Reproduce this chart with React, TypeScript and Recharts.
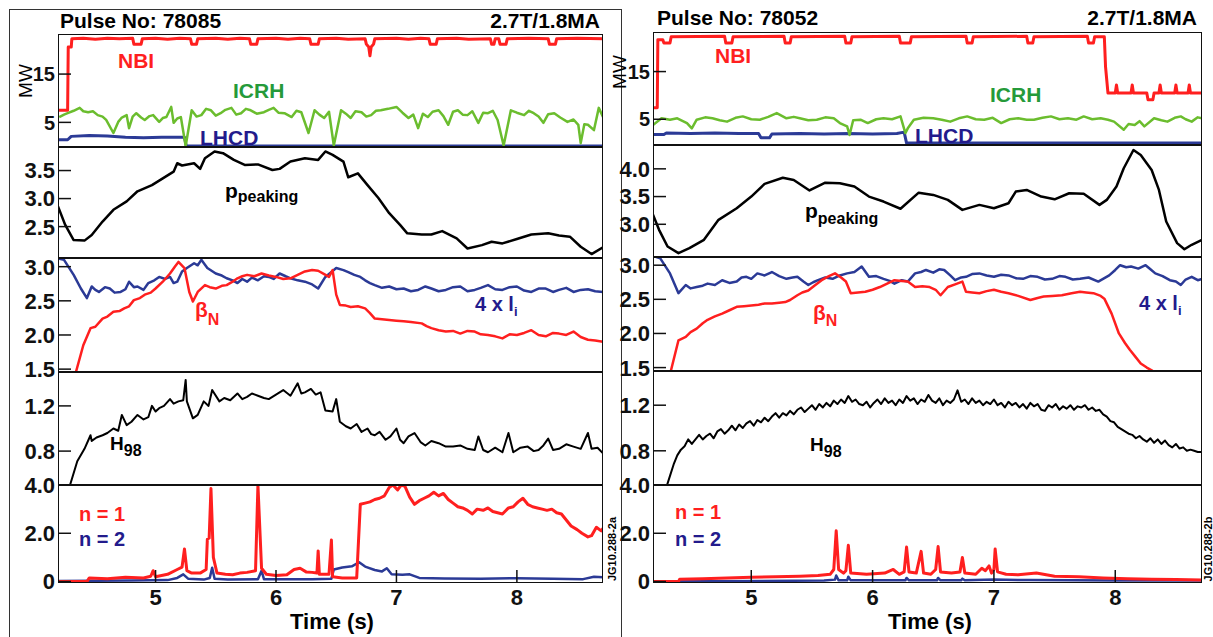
import React from "react";
import { LineChart, Line, XAxis, YAxis } from "recharts";

type Pt = [number, number];

// time axis shared by every panel (s)
const T_DOMAIN: [number, number] = [4.19, 8.715];
const X_TICKS = [5, 6, 7, 8];

// ---------- Pulse 78085 (left) ----------
const L_NBI: Pt[] = [
  [4.19, 7.5], [4.27, 7.5], [4.275, 20.6], [4.3, 20.6], [4.305, 22.3], [4.4, 22.4], [4.5, 22.2], [4.6, 22.4],
  [4.7, 22.3], [4.81, 22.4], [4.82, 21.2], [4.88, 21.2], [4.89, 22.3], [5.0, 22.4], [5.1, 22.2], [5.2, 22.4],
  [5.29, 22.3], [5.3, 21.2], [5.34, 21.2], [5.35, 22.3], [5.5, 22.4], [5.6, 22.2], [5.7, 22.4], [5.78, 22.3],
  [5.79, 21.2], [5.84, 21.2], [5.85, 22.3], [6.0, 22.4], [6.1, 22.2], [6.2, 22.4], [6.28, 22.3], [6.29, 21.2],
  [6.35, 21.2], [6.36, 22.3], [6.5, 22.4], [6.6, 22.2], [6.74, 22.3], [6.75, 21.2], [6.77, 20.6], [6.78, 18.8],
  [6.79, 20.6], [6.81, 21.2], [6.82, 22.3], [7.0, 22.4], [7.1, 22.2], [7.2, 22.4], [7.27, 22.3], [7.28, 21.2],
  [7.33, 21.2], [7.34, 22.3], [7.5, 22.4], [7.6, 22.2], [7.78, 22.3], [7.79, 21.2], [7.81, 21.2], [7.82, 22.3],
  [7.85, 22.3], [7.86, 21.2], [7.91, 21.2], [7.92, 22.3], [8.1, 22.4], [8.26, 22.3], [8.27, 21.2], [8.32, 21.2],
  [8.33, 22.3], [8.5, 22.4], [8.715, 22.3],
];
const L_ICRH: Pt[] = [
  [4.2, 6.1], [4.24, 6.6], [4.27, 6.9], [4.32, 7.4], [4.37, 8.0], [4.4, 7.3], [4.44, 7.1], [4.48, 7.3],
  [4.52, 6.5], [4.56, 6.2], [4.59, 5.5], [4.65, 2.8], [4.69, 5.1], [4.72, 6.0], [4.76, 6.5], [4.78, 3.8],
  [4.81, 6.2], [4.84, 6.9], [4.88, 6.0], [4.91, 5.5], [4.95, 6.3], [4.98, 6.5], [5.03, 5.1], [5.06, 5.9],
  [5.09, 6.1], [5.13, 8.2], [5.15, 4.9], [5.18, 5.8], [5.21, 6.1], [5.25, 0.1], [5.3, 7.5], [5.34, 6.2],
  [5.38, 6.5], [5.42, 7.8], [5.46, 7.5], [5.5, 6.4], [5.54, 6.9], [5.58, 7.6], [5.63, 8.0], [5.67, 6.6],
  [5.71, 6.9], [5.75, 7.8], [5.79, 7.5], [5.84, 6.8], [5.9, 7.1], [5.94, 7.6], [5.98, 8.0], [6.02, 7.0],
  [6.07, 6.9], [6.13, 6.1], [6.17, 7.4], [6.21, 7.1], [6.27, 2.8], [6.32, 7.5], [6.36, 6.6], [6.4, 5.9],
  [6.44, 7.2], [6.48, 0.2], [6.54, 7.5], [6.58, 6.8], [6.62, 5.9], [6.66, 7.3], [6.71, 7.1], [6.75, 6.2],
  [6.79, 6.5], [6.83, 7.4], [6.87, 7.5], [6.93, 7.8], [7.0, 8.2], [7.05, 7.0], [7.1, 5.9], [7.14, 6.6],
  [7.18, 3.8], [7.22, 6.8], [7.26, 6.1], [7.3, 7.2], [7.35, 7.5], [7.39, 6.3], [7.43, 4.5], [7.47, 7.2],
  [7.51, 7.5], [7.55, 6.6], [7.59, 6.5], [7.63, 7.3], [7.68, 4.9], [7.72, 7.0], [7.76, 6.9], [7.8, 7.4],
  [7.84, 5.5], [7.89, 0.2], [7.95, 7.5], [8.0, 7.0], [8.06, 6.5], [8.1, 7.4], [8.14, 6.9], [8.18, 6.2],
  [8.22, 4.9], [8.26, 6.7], [8.31, 6.9], [8.36, 6.0], [8.42, 5.1], [8.47, 5.6], [8.51, 4.5], [8.53, 0.7],
  [8.56, 4.6], [8.59, 4.5], [8.64, 3.4], [8.68, 8.0], [8.715, 6.1],
];
const L_LHCD: Pt[] = [
  [4.19, 1.4], [4.27, 1.4], [4.3, 2.1], [4.45, 2.3], [4.6, 2.2], [4.75, 1.9], [4.9, 1.8], [5.05, 1.9],
  [5.24, 1.9], [5.255, 0.1], [8.715, 0.1],
];
const L_PPEAK: Pt[] = [
  [4.19, 2.86], [4.25, 2.53], [4.32, 2.26], [4.41, 2.25], [4.47, 2.35], [4.56, 2.59], [4.65, 2.8], [4.76, 2.95],
  [4.85, 3.13], [4.97, 3.24], [5.06, 3.36], [5.15, 3.48], [5.18, 3.63], [5.22, 3.59], [5.32, 3.63], [5.37, 3.53],
  [5.41, 3.72], [5.49, 3.84], [5.56, 3.81], [5.65, 3.69], [5.74, 3.6], [5.85, 3.61], [5.97, 3.51], [6.03, 3.53],
  [6.12, 3.66], [6.24, 3.72], [6.35, 3.69], [6.41, 3.84], [6.47, 3.78], [6.56, 3.66], [6.6, 3.38], [6.68, 3.45],
  [6.76, 3.24], [6.85, 3.01], [6.94, 2.74], [7.03, 2.53], [7.09, 2.38], [7.21, 2.36], [7.29, 2.36], [7.38, 2.42],
  [7.5, 2.29], [7.59, 2.11], [7.71, 2.17], [7.79, 2.23], [7.88, 2.2], [8.0, 2.28], [8.12, 2.36], [8.26, 2.38],
  [8.35, 2.34], [8.44, 2.32], [8.53, 2.14], [8.62, 2.01], [8.715, 2.13],
];
const L_LI4: Pt[] = [
  [4.19, 3.12], [4.24, 3.1], [4.32, 2.88], [4.38, 2.68], [4.43, 2.54], [4.47, 2.71], [4.5, 2.66], [4.53, 2.63],
  [4.58, 2.7], [4.62, 2.68], [4.66, 2.62], [4.71, 2.63], [4.75, 2.67], [4.78, 2.78], [4.82, 2.7], [4.85, 2.71],
  [4.9, 2.66], [4.94, 2.76], [4.99, 2.8], [5.03, 2.85], [5.08, 2.82], [5.12, 2.85], [5.15, 2.76], [5.18, 2.78],
  [5.22, 2.93], [5.26, 2.98], [5.32, 3.05], [5.35, 3.02], [5.38, 3.1], [5.43, 2.98], [5.5, 2.9], [5.55, 2.87],
  [5.59, 2.83], [5.64, 2.8], [5.68, 2.76], [5.72, 2.82], [5.76, 2.78], [5.8, 2.84], [5.85, 2.8], [5.9, 2.86],
  [5.94, 2.85], [5.98, 2.82], [6.03, 2.9], [6.08, 2.86], [6.12, 2.83], [6.18, 2.8], [6.24, 2.78], [6.3, 2.74],
  [6.35, 2.68], [6.41, 2.85], [6.5, 2.98], [6.56, 2.95], [6.6, 2.92], [6.65, 2.88], [6.7, 2.85], [6.74, 2.8],
  [6.78, 2.76], [6.82, 2.73], [6.88, 2.69], [6.94, 2.71], [7.0, 2.67], [7.06, 2.68], [7.12, 2.64], [7.18, 2.66],
  [7.24, 2.71], [7.29, 2.68], [7.35, 2.64], [7.41, 2.66], [7.47, 2.7], [7.53, 2.71], [7.59, 2.64], [7.65, 2.66],
  [7.7, 2.69], [7.76, 2.73], [7.82, 2.67], [7.88, 2.66], [7.94, 2.7], [8.0, 2.71], [8.06, 2.65], [8.12, 2.63],
  [8.18, 2.68], [8.24, 2.68], [8.3, 2.63], [8.35, 2.66], [8.41, 2.69], [8.47, 2.63], [8.53, 2.66], [8.59, 2.67],
  [8.65, 2.64], [8.715, 2.63],
];
const L_BETAN: Pt[] = [
  [4.33, 1.4], [4.4, 1.85], [4.46, 2.1], [4.5, 2.12], [4.56, 2.24], [4.6, 2.27], [4.65, 2.34], [4.7, 2.35],
  [4.74, 2.39], [4.78, 2.42], [4.82, 2.51], [4.87, 2.54], [4.91, 2.59], [4.96, 2.62], [5.0, 2.68], [5.06, 2.78],
  [5.12, 2.9], [5.16, 3.0], [5.19, 3.07], [5.24, 2.98], [5.28, 2.63], [5.31, 2.49], [5.35, 2.63], [5.41, 2.73],
  [5.45, 2.7], [5.5, 2.68], [5.55, 2.72], [5.59, 2.73], [5.64, 2.78], [5.68, 2.83], [5.72, 2.86], [5.76, 2.88],
  [5.82, 2.86], [5.88, 2.9], [5.94, 2.87], [6.0, 2.85], [6.06, 2.82], [6.12, 2.83], [6.18, 2.88], [6.24, 2.93],
  [6.3, 2.95], [6.35, 2.94], [6.4, 2.89], [6.44, 2.85], [6.47, 2.95], [6.5, 2.59], [6.53, 2.44], [6.58, 2.43],
  [6.62, 2.41], [6.68, 2.42], [6.74, 2.39], [6.78, 2.32], [6.82, 2.24], [6.88, 2.23], [6.94, 2.22], [7.0, 2.21],
  [7.06, 2.2], [7.12, 2.19], [7.21, 2.17], [7.25, 2.13], [7.29, 2.1], [7.35, 2.07], [7.41, 2.05], [7.47, 2.06],
  [7.53, 2.02], [7.59, 2.06], [7.65, 2.05], [7.7, 2.01], [7.76, 2.0], [7.82, 1.98], [7.88, 1.95], [7.94, 2.01],
  [8.0, 2.0], [8.06, 2.03], [8.12, 2.07], [8.18, 2.0], [8.24, 1.98], [8.3, 2.03], [8.35, 2.02], [8.41, 2.0],
  [8.47, 2.05], [8.53, 1.97], [8.59, 1.93], [8.65, 1.92], [8.715, 1.9],
];
const L_H98: Pt[] = [
  [4.29, 0.5], [4.35, 0.71], [4.41, 0.82], [4.46, 0.94], [4.47, 0.89], [4.51, 0.92], [4.56, 0.94], [4.6, 0.96],
  [4.65, 1.0], [4.69, 0.98], [4.72, 1.12], [4.76, 1.03], [4.8, 1.06], [4.85, 1.12], [4.9, 1.08], [4.94, 1.1],
  [4.97, 1.2], [5.0, 1.15], [5.03, 1.18], [5.07, 1.2], [5.12, 1.26], [5.15, 1.22], [5.19, 1.24], [5.23, 1.25],
  [5.25, 1.43], [5.26, 1.24], [5.31, 1.09], [5.35, 1.12], [5.4, 1.24], [5.44, 1.2], [5.47, 1.34], [5.53, 1.24],
  [5.57, 1.27], [5.62, 1.25], [5.68, 1.31], [5.72, 1.26], [5.76, 1.28], [5.8, 1.31], [5.85, 1.29], [5.9, 1.27],
  [5.94, 1.26], [6.0, 1.3], [6.06, 1.34], [6.12, 1.29], [6.18, 1.4], [6.21, 1.31], [6.24, 1.32], [6.29, 1.35],
  [6.33, 1.3], [6.37, 1.32], [6.41, 1.16], [6.47, 1.15], [6.5, 1.26], [6.53, 1.06], [6.58, 1.02], [6.62, 1.0],
  [6.67, 1.04], [6.71, 0.97], [6.76, 1.0], [6.79, 0.95], [6.82, 0.94], [6.86, 0.97], [6.91, 0.9], [6.95, 0.93],
  [7.0, 1.0], [7.03, 0.9], [7.06, 0.87], [7.1, 0.93], [7.15, 0.96], [7.2, 0.88], [7.24, 0.85], [7.29, 0.89],
  [7.35, 0.87], [7.41, 0.84], [7.47, 0.84], [7.53, 0.85], [7.59, 0.82], [7.65, 0.81], [7.68, 0.93], [7.72, 0.81],
  [7.76, 0.79], [7.82, 0.83], [7.88, 0.79], [7.93, 0.96], [7.97, 0.79], [8.03, 0.83], [8.09, 0.84], [8.14, 0.8],
  [8.18, 0.81], [8.22, 0.85], [8.26, 0.91], [8.3, 0.81], [8.35, 0.82], [8.41, 0.86], [8.47, 0.84], [8.53, 0.82],
  [8.59, 0.96], [8.62, 0.82], [8.67, 0.83], [8.715, 0.78],
];
const L_N1: Pt[] = [
  [4.19, 0], [4.43, 0], [4.45, 0.15], [4.6, 0.12], [4.75, 0.18], [4.9, 0.15], [4.96, 0.22], [4.98, 0.45],
  [5.0, 0.2], [5.1, 0.3], [5.18, 0.5], [5.22, 0.6], [5.24, 1.35], [5.26, 0.45], [5.3, 0.35], [5.37, 0.35],
  [5.42, 0.5], [5.43, 1.75], [5.445, 1.8], [5.46, 3.85], [5.48, 1.0], [5.51, 0.35], [5.58, 0.3], [5.64, 0.28],
  [5.7, 0.35], [5.76, 0.38], [5.83, 0.45], [5.85, 4.0], [5.88, 0.55], [5.92, 0.3], [6.0, 0.25], [6.09, 0.28],
  [6.15, 0.5], [6.2, 0.55], [6.25, 0.4], [6.3, 0.38], [6.34, 0.35], [6.35, 1.27], [6.36, 0.3], [6.44, 0.3],
  [6.46, 1.72], [6.47, 0.2], [6.55, 0.15], [6.67, 0.15], [6.7, 3.2], [6.74, 3.25], [6.78, 3.3], [6.82, 3.4],
  [6.86, 3.45], [6.9, 3.55], [6.94, 3.9], [6.97, 4.0], [7.01, 3.8], [7.04, 4.0], [7.07, 3.95], [7.11, 3.5],
  [7.15, 3.2], [7.19, 3.35], [7.23, 3.45], [7.27, 3.55], [7.31, 3.7], [7.35, 3.55], [7.39, 3.65], [7.43, 3.4],
  [7.47, 3.25], [7.51, 3.1], [7.55, 3.05], [7.59, 2.95], [7.63, 2.8], [7.67, 3.0], [7.72, 2.95], [7.76, 3.05],
  [7.8, 2.9], [7.84, 2.85], [7.88, 2.8], [7.93, 3.05], [7.97, 3.1], [8.01, 3.3], [8.05, 3.45], [8.09, 3.2],
  [8.13, 3.1], [8.17, 3.05], [8.21, 3.0], [8.25, 2.95], [8.29, 3.0], [8.33, 2.85], [8.37, 2.8], [8.41, 2.55],
  [8.45, 2.3], [8.5, 2.15], [8.54, 2.0], [8.59, 1.85], [8.62, 1.9], [8.66, 2.25], [8.7, 2.1], [8.715, 2.2],
];
const L_N2: Pt[] = [
  [4.19, 0.02], [4.8, 0.04], [5.1, 0.06], [5.18, 0.15], [5.23, 0.3], [5.27, 0.12], [5.4, 0.08], [5.45, 0.15],
  [5.47, 0.57], [5.49, 0.12], [5.6, 0.08], [5.85, 0.1], [5.88, 0.45], [5.9, 0.1], [6.1, 0.1], [6.3, 0.1],
  [6.46, 0.12], [6.48, 0.5], [6.55, 0.58], [6.63, 0.63], [6.69, 0.8], [6.74, 0.62], [6.82, 0.48], [6.88, 0.42],
  [6.92, 0.55], [6.96, 0.3], [7.05, 0.28], [7.11, 0.3], [7.19, 0.15], [7.4, 0.13], [7.7, 0.12], [8.0, 0.14],
  [8.3, 0.12], [8.55, 0.1], [8.64, 0.2], [8.715, 0.18],
];

// ---------- Pulse 78052 (right) ----------
const R_NBI: Pt[] = [
  [4.185, 7.4], [4.225, 7.4], [4.23, 21.7], [4.27, 21.7], [4.28, 21.0], [4.33, 21.0], [4.34, 22.3], [4.78, 22.4],
  [4.79, 21.0], [4.84, 21.0], [4.85, 22.3], [5.27, 22.4], [5.28, 21.0], [5.32, 21.0], [5.33, 22.3], [5.77, 22.4],
  [5.78, 21.0], [5.82, 21.0], [5.83, 22.3], [6.22, 22.4], [6.23, 21.0], [6.31, 21.0], [6.32, 22.3], [6.77, 22.4],
  [6.78, 21.0], [6.82, 21.0], [6.83, 22.3], [7.27, 22.4], [7.28, 21.0], [7.32, 21.0], [7.33, 22.3], [7.77, 22.4],
  [7.78, 21.0], [7.82, 21.0], [7.83, 22.3], [7.91, 22.3], [7.92, 16.0], [7.94, 10.5], [8.0, 10.5], [8.01, 12.2],
  [8.02, 10.5], [8.13, 10.5], [8.14, 12.2], [8.15, 10.5], [8.26, 10.5], [8.27, 9.1], [8.31, 9.1], [8.32, 10.5],
  [8.36, 10.5], [8.37, 12.2], [8.38, 10.5], [8.49, 10.5], [8.5, 12.2], [8.51, 10.5], [8.6, 10.5], [8.61, 12.2],
  [8.62, 10.5], [8.715, 10.5],
];
const R_ICRH: Pt[] = [
  [4.19, 3.8], [4.26, 5.2], [4.33, 4.9], [4.39, 5.2], [4.47, 4.2], [4.51, 3.1], [4.55, 4.9], [4.62, 5.4],
  [4.68, 5.2], [4.74, 4.8], [4.8, 4.5], [4.87, 5.3], [4.93, 5.6], [5.0, 5.0], [5.07, 4.9], [5.14, 5.5],
  [5.21, 6.3], [5.29, 5.2], [5.35, 5.5], [5.4, 5.2], [5.47, 4.8], [5.54, 4.9], [5.61, 5.4], [5.68, 5.2],
  [5.73, 4.2], [5.79, 3.5], [5.81, 1.7], [5.84, 4.8], [5.9, 4.9], [5.96, 4.2], [6.03, 5.0], [6.09, 5.2],
  [6.16, 5.0], [6.23, 5.6], [6.27, 2.1], [6.29, 3.1], [6.34, 4.9], [6.42, 5.3], [6.5, 5.2], [6.57, 4.9],
  [6.64, 4.5], [6.71, 5.2], [6.78, 5.6], [6.85, 5.0], [6.92, 4.9], [6.99, 5.3], [7.06, 4.2], [7.13, 5.0],
  [7.2, 5.2], [7.27, 4.9], [7.33, 4.9], [7.4, 5.3], [7.47, 5.6], [7.54, 5.0], [7.61, 5.2], [7.68, 4.9],
  [7.74, 5.6], [7.81, 5.0], [7.88, 5.2], [7.94, 4.9], [7.99, 4.5], [8.07, 2.8], [8.11, 4.0], [8.16, 3.8],
  [8.2, 4.6], [8.24, 3.5], [8.32, 5.2], [8.38, 4.8], [8.43, 4.5], [8.49, 5.3], [8.54, 5.6], [8.58, 5.0],
  [8.63, 4.5], [8.68, 5.4], [8.715, 5.2],
];
const R_LHCD: Pt[] = [
  [4.185, 1.8], [4.28, 1.8], [4.3, 2.1], [4.5, 2.0], [4.7, 2.1], [4.9, 2.0], [5.06, 2.0], [5.08, 1.1],
  [5.15, 1.1], [5.17, 1.9], [5.4, 2.0], [5.6, 1.9], [5.8, 2.0], [6.0, 1.9], [6.2, 2.0], [6.26, 2.3],
  [6.28, 0.0], [8.715, 0.0],
];
const R_PPEAK: Pt[] = [
  [4.185, 3.2], [4.24, 2.9], [4.31, 2.6], [4.4, 2.48], [4.49, 2.57], [4.61, 2.72], [4.73, 3.08], [4.88, 3.29],
  [5.0, 3.5], [5.11, 3.73], [5.26, 3.84], [5.35, 3.8], [5.48, 3.61], [5.61, 3.75], [5.73, 3.74], [5.85, 3.68],
  [5.97, 3.5], [6.09, 3.41], [6.23, 3.28], [6.38, 3.57], [6.5, 3.53], [6.62, 3.44], [6.74, 3.26], [6.88, 3.35],
  [7.0, 3.29], [7.12, 3.38], [7.18, 3.59], [7.27, 3.62], [7.39, 3.5], [7.5, 3.45], [7.62, 3.56], [7.74, 3.55],
  [7.87, 3.35], [7.93, 3.44], [8.01, 3.68], [8.07, 4.01], [8.15, 4.34], [8.21, 4.25], [8.3, 3.98], [8.36, 3.62],
  [8.42, 3.05], [8.51, 2.66], [8.57, 2.55], [8.63, 2.63], [8.715, 2.72],
];
const R_LI4: Pt[] = [
  [4.185, 3.14], [4.25, 3.1], [4.33, 2.88], [4.4, 2.59], [4.46, 2.71], [4.5, 2.66], [4.55, 2.68], [4.6, 2.7],
  [4.64, 2.73], [4.7, 2.71], [4.76, 2.78], [4.82, 2.74], [4.88, 2.76], [4.92, 2.82], [4.96, 2.83], [5.0, 2.8],
  [5.05, 2.88], [5.11, 2.85], [5.17, 2.9], [5.23, 2.84], [5.29, 2.8], [5.34, 2.82], [5.38, 2.83], [5.43, 2.76],
  [5.47, 2.71], [5.51, 2.75], [5.55, 2.78], [5.61, 2.82], [5.67, 2.8], [5.73, 2.85], [5.79, 2.88], [5.85, 2.9],
  [5.91, 2.98], [5.97, 2.83], [6.03, 2.84], [6.09, 2.8], [6.14, 2.77], [6.18, 2.73], [6.24, 2.78], [6.29, 2.76],
  [6.35, 2.88], [6.4, 2.9], [6.44, 2.93], [6.5, 2.89], [6.55, 2.94], [6.59, 2.93], [6.64, 2.85], [6.68, 2.78],
  [6.73, 2.82], [6.77, 2.83], [6.82, 2.87], [6.88, 2.88], [6.94, 2.85], [7.0, 2.83], [7.06, 2.86], [7.12, 2.85],
  [7.18, 2.81], [7.24, 2.8], [7.3, 2.84], [7.36, 2.83], [7.42, 2.79], [7.48, 2.8], [7.54, 2.84], [7.59, 2.83],
  [7.65, 2.79], [7.71, 2.8], [7.78, 2.82], [7.86, 2.76], [7.95, 2.85], [8.0, 2.93], [8.04, 3.0], [8.09, 2.97],
  [8.13, 2.98], [8.19, 2.95], [8.25, 3.0], [8.29, 2.94], [8.33, 2.88], [8.39, 2.84], [8.45, 2.78], [8.5, 2.76],
  [8.54, 2.71], [8.58, 2.79], [8.63, 2.83], [8.68, 2.78], [8.715, 2.8],
];
const R_BETAN: Pt[] = [
  [4.33, 1.4], [4.4, 1.9], [4.46, 1.95], [4.5, 2.02], [4.55, 2.07], [4.6, 2.15], [4.64, 2.2], [4.7, 2.25],
  [4.76, 2.29], [4.82, 2.34], [4.88, 2.39], [4.94, 2.4], [5.0, 2.41], [5.06, 2.42], [5.11, 2.44], [5.17, 2.44],
  [5.23, 2.45], [5.28, 2.46], [5.32, 2.49], [5.38, 2.56], [5.42, 2.6], [5.47, 2.63], [5.52, 2.7], [5.58, 2.78],
  [5.64, 2.84], [5.69, 2.88], [5.74, 2.82], [5.78, 2.76], [5.82, 2.59], [5.88, 2.6], [5.94, 2.61], [6.0, 2.64],
  [6.06, 2.68], [6.12, 2.73], [6.18, 2.78], [6.24, 2.77], [6.29, 2.76], [6.35, 2.68], [6.41, 2.69], [6.47, 2.68],
  [6.52, 2.64], [6.56, 2.56], [6.62, 2.68], [6.68, 2.72], [6.74, 2.76], [6.77, 2.61], [6.82, 2.6], [6.88, 2.59],
  [6.94, 2.62], [7.0, 2.64], [7.06, 2.61], [7.12, 2.59], [7.2, 2.55], [7.3, 2.49], [7.36, 2.52], [7.41, 2.54],
  [7.48, 2.55], [7.56, 2.56], [7.64, 2.59], [7.71, 2.61], [7.76, 2.6], [7.82, 2.59], [7.88, 2.55], [7.91, 2.51],
  [7.97, 2.29], [8.03, 2.0], [8.08, 1.86], [8.12, 1.76], [8.17, 1.65], [8.21, 1.56], [8.26, 1.5], [8.3, 1.46],
  [8.33, 1.42],
];
const R_H98: Pt[] = [
  [4.3, 0.48], [4.33, 0.58], [4.36, 0.68], [4.39, 0.76], [4.42, 0.81], [4.45, 0.84], [4.48, 0.9], [4.51, 0.86],
  [4.54, 0.9], [4.57, 0.94], [4.6, 0.9], [4.63, 0.93], [4.66, 0.95], [4.69, 0.91], [4.72, 0.97], [4.75, 0.99],
  [4.78, 0.95], [4.81, 0.98], [4.84, 1.02], [4.87, 0.98], [4.9, 1.03], [4.93, 1.0], [4.96, 1.04], [4.99, 1.06],
  [5.02, 1.02], [5.05, 1.07], [5.08, 1.05], [5.11, 1.09], [5.14, 1.06], [5.17, 1.1], [5.2, 1.13], [5.23, 1.09],
  [5.26, 1.13], [5.29, 1.11], [5.32, 1.15], [5.35, 1.12], [5.38, 1.16], [5.41, 1.18], [5.44, 1.14], [5.47, 1.17],
  [5.5, 1.2], [5.53, 1.16], [5.56, 1.21], [5.59, 1.18], [5.62, 1.22], [5.65, 1.19], [5.68, 1.24], [5.71, 1.21],
  [5.74, 1.25], [5.77, 1.22], [5.8, 1.28], [5.83, 1.23], [5.86, 1.25], [5.89, 1.21], [5.92, 1.2], [5.95, 1.23],
  [5.98, 1.18], [6.01, 1.22], [6.04, 1.25], [6.07, 1.21], [6.1, 1.26], [6.13, 1.22], [6.16, 1.24], [6.19, 1.2],
  [6.22, 1.25], [6.25, 1.22], [6.28, 1.28], [6.31, 1.24], [6.34, 1.26], [6.37, 1.21], [6.4, 1.25], [6.43, 1.23],
  [6.46, 1.29], [6.49, 1.24], [6.52, 1.22], [6.55, 1.26], [6.58, 1.2], [6.61, 1.24], [6.64, 1.22], [6.67, 1.25],
  [6.7, 1.33], [6.73, 1.23], [6.76, 1.25], [6.79, 1.21], [6.82, 1.26], [6.85, 1.22], [6.88, 1.24], [6.91, 1.2],
  [6.94, 1.23], [6.97, 1.21], [7.0, 1.25], [7.03, 1.2], [7.06, 1.22], [7.09, 1.18], [7.12, 1.23], [7.15, 1.2],
  [7.18, 1.22], [7.21, 1.18], [7.24, 1.21], [7.27, 1.17], [7.3, 1.22], [7.33, 1.19], [7.36, 1.21], [7.39, 1.16],
  [7.42, 1.15], [7.45, 1.2], [7.48, 1.18], [7.51, 1.21], [7.54, 1.16], [7.57, 1.19], [7.6, 1.17], [7.63, 1.2],
  [7.66, 1.16], [7.69, 1.19], [7.72, 1.18], [7.75, 1.2], [7.78, 1.16], [7.81, 1.18], [7.84, 1.15], [7.87, 1.16],
  [7.9, 1.12], [7.93, 1.1], [7.96, 1.06], [7.99, 1.05], [8.02, 1.01], [8.05, 0.99], [8.08, 0.97], [8.11, 0.95],
  [8.14, 0.94], [8.17, 0.91], [8.2, 0.93], [8.23, 0.9], [8.26, 0.88], [8.29, 0.91], [8.32, 0.87], [8.35, 0.9],
  [8.38, 0.86], [8.41, 0.89], [8.44, 0.85], [8.47, 0.83], [8.5, 0.86], [8.53, 0.82], [8.56, 0.83], [8.59, 0.8],
  [8.62, 0.81], [8.65, 0.8], [8.68, 0.79], [8.715, 0.79],
];
const R_N1: Pt[] = [
  [4.185, 0], [4.4, 0], [4.41, 0.1], [4.6, 0.12], [4.8, 0.15], [5.0, 0.18], [5.2, 0.2], [5.4, 0.22],
  [5.55, 0.25], [5.65, 0.3], [5.68, 0.5], [5.7, 2.1], [5.72, 0.5], [5.76, 0.35], [5.78, 0.45], [5.8, 1.5],
  [5.82, 0.35], [5.95, 0.3], [6.1, 0.35], [6.17, 0.5], [6.22, 0.3], [6.26, 0.4], [6.28, 1.43], [6.3, 0.4],
  [6.36, 0.35], [6.4, 1.25], [6.42, 0.35], [6.48, 0.3], [6.52, 0.5], [6.54, 1.45], [6.56, 0.4], [6.65, 0.35],
  [6.72, 0.4], [6.74, 1.0], [6.76, 0.35], [6.85, 0.3], [6.9, 0.55], [6.93, 0.45], [6.96, 0.65], [6.98, 0.35],
  [7.0, 0.5], [7.01, 1.35], [7.03, 0.4], [7.1, 0.3], [7.2, 0.28], [7.35, 0.35], [7.5, 0.22], [7.7, 0.2],
  [7.9, 0.15], [8.1, 0.12], [8.3, 0.1], [8.5, 0.08], [8.715, 0.06],
];
const R_N2: Pt[] = [
  [4.185, 0], [5.6, 0.04], [5.69, 0.08], [5.7, 0.25], [5.72, 0.05], [5.79, 0.05], [5.8, 0.2], [5.82, 0.05],
  [6.27, 0.05], [6.28, 0.15], [6.3, 0.05], [6.53, 0.05], [6.54, 0.15], [6.56, 0.05], [6.73, 0.05], [6.74, 0.12],
  [6.76, 0.05], [7.0, 0.08], [7.3, 0.06], [8.0, 0.04], [8.715, 0.04],
];

// ---------- styling ----------
const FONT = '"Liberation Sans", Arial, Helvetica, sans-serif';
const RED = "#ff1f1f";
const GREEN = "#6bbd2e";
const GREEN_TXT = "#259a3a";
const BLUE = "#2b3a96";
const NAVY = "#231b8c";
const BLACK = "#000";

interface Series {
  data: Pt[];
  color: string;
  width: number;
}
interface PanelSpec {
  top: number;
  height: number;
  domain: [number, number];
  ticks: number[];
  fs: number;
  fmt: (v: number) => string;
  series: Series[];
  showX?: boolean;
}

const one = (v: number) => v.toFixed(1);

function yTick(fmt: (v: number) => string, fs: number) {
  return (props: any) => {
    const { x, y, payload } = props;
    return (
      <g>
        <line x1={x} x2={x + 13} y1={y} y2={y} stroke="#111" strokeWidth={1.5} />
        <text x={x - 3} y={y} dy={fs * 0.36} textAnchor="end" fontSize={fs} fontWeight="bold" fontFamily={FONT} fill="#111">
          {fmt(payload.value)}
        </text>
      </g>
    );
  };
}

const xTick = (props: any) => {
  const { x, y, payload } = props;
  return (
    <g>
      <line x1={x} x2={x} y1={y} y2={y - 13} stroke="#111" strokeWidth={1.5} />
      <text x={x} y={y + 22} textAnchor="middle" fontSize={22} fontWeight="bold" fontFamily={FONT} fill="#111">
        {payload.value}
      </text>
    </g>
  );
};

function Panel({ spec, left, yW, plotW }: { spec: PanelSpec; left: number; yW: number; plotW: number }) {
  const xH = spec.showX ? 30 : 0;
  return (
    <div style={{ position: "absolute", left, top: spec.top }}>
      <LineChart width={yW + plotW} height={spec.height + xH} margin={{ top: 0, right: 0, bottom: 0, left: 0 }}>
        <XAxis
          type="number"
          dataKey="t"
          domain={T_DOMAIN}
          allowDataOverflow
          ticks={X_TICKS}
          interval={0}
          hide={!spec.showX}
          height={xH || 1}
          tickSize={0}
          tickMargin={0}
          axisLine={false}
          tickLine={false}
          tick={xTick}
        />
        <YAxis
          type="number"
          domain={spec.domain}
          allowDataOverflow
          ticks={spec.ticks}
          interval={0}
          width={yW}
          tickSize={0}
          tickMargin={0}
          axisLine={false}
          tickLine={false}
          tick={yTick(spec.fmt, spec.fs)}
        />
        {spec.series.map((s, i) => (
          <Line
            key={i}
            name={"s" + i}
            data={s.data.map(([t, v]) => ({ t, v }))}
            dataKey="v"
            type="linear"
            stroke={s.color}
            strokeWidth={s.width}
            strokeLinejoin="round"
            dot={false}
            activeDot={false}
            isAnimationActive={false}
          />
        ))}
      </LineChart>
      <div
        style={{
          position: "absolute",
          left: yW,
          top: 0,
          width: plotW,
          height: spec.height,
          border: "1.5px solid #111",
          boxSizing: "border-box",
          pointerEvents: "none",
        }}
      />
    </div>
  );
}

const LEFT_PANELS: PanelSpec[] = [
  { top: 34, height: 113, domain: [-0.1, 23.3], ticks: [5, 15], fs: 20, fmt: (v) => String(v),
    series: [{ data: L_LHCD, color: BLUE, width: 3 }, { data: L_ICRH, color: GREEN, width: 2.5 }, { data: L_NBI, color: RED, width: 3 }] },
  { top: 147, height: 111, domain: [1.94, 3.92], ticks: [2.5, 3.0, 3.5], fs: 22, fmt: one,
    series: [{ data: L_PPEAK, color: BLACK, width: 2.5 }] },
  { top: 258, height: 114, domain: [1.458, 3.127], ticks: [1.5, 2.0, 2.5, 3.0], fs: 22, fmt: one,
    series: [{ data: L_LI4, color: BLUE, width: 2.5 }, { data: L_BETAN, color: RED, width: 2.5 }] },
  { top: 372, height: 113, domain: [0.5, 1.5], ticks: [0.8, 1.2], fs: 22, fmt: one,
    series: [{ data: L_H98, color: BLACK, width: 2 }] },
  { top: 485, height: 98, domain: [-0.06, 4], ticks: [0, 2, 4], fs: 22, fmt: (v) => (v === 0 ? "0" : one(v)), showX: true,
    series: [{ data: L_N2, color: BLUE, width: 2.5 }, { data: L_N1, color: RED, width: 3 }] },
];

const RIGHT_PANELS: PanelSpec[] = [
  { top: 32, height: 113, domain: [-0.4, 23.3], ticks: [5, 15], fs: 20, fmt: (v) => String(v),
    series: [{ data: R_LHCD, color: BLUE, width: 3 }, { data: R_ICRH, color: GREEN, width: 2.5 }, { data: R_NBI, color: RED, width: 3 }] },
  { top: 145, height: 112, domain: [2.41, 4.43], ticks: [3.0, 3.5, 4.0], fs: 22, fmt: one,
    series: [{ data: R_PPEAK, color: BLACK, width: 2.5 }] },
  { top: 257, height: 114, domain: [1.45, 3.12], ticks: [1.5, 2.0, 2.5, 3.0], fs: 22, fmt: one,
    series: [{ data: R_LI4, color: BLUE, width: 2.5 }, { data: R_BETAN, color: RED, width: 2.5 }] },
  { top: 371, height: 114, domain: [0.5, 1.5], ticks: [0.8, 1.2], fs: 22, fmt: one,
    series: [{ data: R_H98, color: BLACK, width: 2 }] },
  { top: 485, height: 98, domain: [-0.06, 4], ticks: [0, 2, 4], fs: 22, fmt: (v) => (v === 0 ? "0" : one(v)), showX: true,
    series: [{ data: R_N2, color: BLUE, width: 2.5 }, { data: R_N1, color: RED, width: 3 }] },
];

function Txt({ x, y, fs = 21, color = "#000", weight = "bold", children }: any) {
  return (
    <div
      style={{
        position: "absolute",
        left: x,
        top: y,
        fontFamily: FONT,
        fontSize: fs,
        fontWeight: weight,
        color,
        lineHeight: 1,
        whiteSpace: "nowrap",
      }}
    >
      {children}
    </div>
  );
}

function Rot({ cx, cy, fs, weight = "bold", children }: any) {
  return (
    <div
      style={{
        position: "absolute",
        left: cx,
        top: cy,
        transform: "translate(-50%, -50%) rotate(-90deg)",
        fontFamily: FONT,
        fontSize: fs,
        fontWeight: weight,
        lineHeight: 1,
        whiteSpace: "nowrap",
        color: "#000",
      }}
    >
      {children}
    </div>
  );
}

const sub = (fs: number, dy: number) => ({ fontSize: fs, position: "relative" as const, top: dy });

export default function App() {
  return (
    <div style={{ position: "absolute", left: 0, top: 0, width: 1213, height: 637, background: "#fff", overflow: "hidden" }}>
      <style>{`svg.recharts-surface{overflow:visible}`}</style>
      <div style={{ position: "absolute", left: 9, top: 9, width: 613, height: 660, border: "1.5px solid #333", boxSizing: "border-box" }} />

      {LEFT_PANELS.map((p, i) => (
        <Panel key={"l" + i} spec={p} left={0} yW={58} plotW={545} />
      ))}
      {RIGHT_PANELS.map((p, i) => (
        <Panel key={"r" + i} spec={p} left={603} yW={50} plotW={549} />
      ))}

      {/* left column texts */}
      <Txt x={60} y={10}>Pulse No: 78085</Txt>
      <div style={{ position: "absolute", right: 613, top: 10, fontFamily: FONT, fontSize: 21, fontWeight: "bold", lineHeight: 1 }}>2.7T/1.8MA</div>
      <Rot cx={25} cy={81} fs={19} weight="normal">MW</Rot>
      <Txt x={118} y={50} color={RED}>NBI</Txt>
      <Txt x={233} y={80} color={GREEN_TXT}>ICRH</Txt>
      <Txt x={200} y={127} color={NAVY}>LHCD</Txt>
      <Txt x={225} y={180}>p<span style={sub(16, 4)}>peaking</span></Txt>
      <Txt x={195} y={299} color={RED}>β<span style={sub(16, 8)}>N</span></Txt>
      <Txt x={475} y={294} fs={20} color={NAVY}>4 x l<span style={sub(13, 5)}>i</span></Txt>
      <Txt x={110} y={434} fs={19}>H<span style={sub(16, 6)}>98</span></Txt>
      <Txt x={79} y={504} fs={20} color={RED}>n = 1</Txt>
      <Txt x={79} y={529} fs={20} color={NAVY}>n = 2</Txt>
      <Rot cx={612} cy={549} fs={11}>JG10.288-2a</Rot>
      <Txt x={290} y={611} fs={22}>Time (s)</Txt>

      {/* right column texts */}
      <Txt x={657} y={7}>Pulse No: 78052</Txt>
      <div style={{ position: "absolute", right: 16, top: 7, fontFamily: FONT, fontSize: 21, fontWeight: "bold", lineHeight: 1 }}>2.7T/1.8MA</div>
      <Rot cx={619} cy={72} fs={19} weight="normal">MW</Rot>
      <Txt x={715} y={45} color={RED}>NBI</Txt>
      <Txt x={990} y={84} color={GREEN_TXT}>ICRH</Txt>
      <Txt x={915} y={125} color={NAVY}>LHCD</Txt>
      <Txt x={805} y={200}>p<span style={sub(16, 6)}>peaking</span></Txt>
      <Txt x={813} y={302} color={RED}>β<span style={sub(16, 6)}>N</span></Txt>
      <Txt x={1139} y={293} fs={20} color={NAVY}>4 x l<span style={sub(13, 5)}>i</span></Txt>
      <Txt x={810} y={435} fs={19}>H<span style={sub(16, 6)}>98</span></Txt>
      <Txt x={675} y={502} fs={20} color={RED}>n = 1</Txt>
      <Txt x={675} y={529} fs={20} color={NAVY}>n = 2</Txt>
      <Rot cx={1208} cy={549} fs={11}>JG10.288-2b</Rot>
      <Txt x={888} y={611} fs={22}>Time (s)</Txt>
    </div>
  );
}
